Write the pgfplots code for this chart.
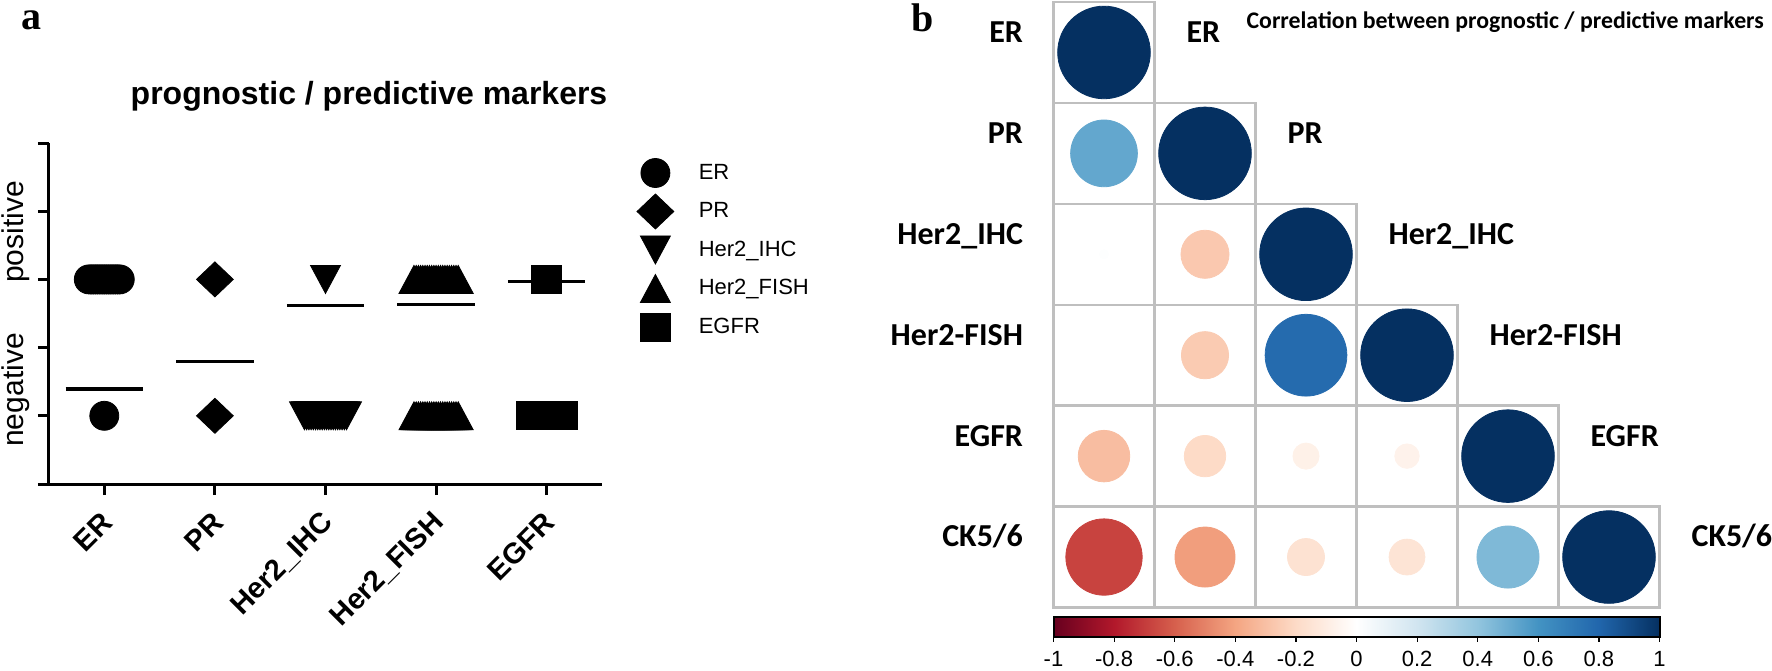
\documentclass[border=0pt]{standalone}
\usepackage{fontspec}
\setmainfont{Liberation Sans}
\newfontfamily\carlito{Carlito}
\newfontfamily\serifb{Liberation Serif}
\usepackage{pgfplots}
\pgfplotsset{compat=1.18}
\usepackage{pgfplotstable}

\pgfdeclareplotmark{mdiamond}{%
  \pgfpathmoveto{\pgfqpoint{0pt}{8.75pt}}%
  \pgfpathlineto{\pgfqpoint{9.2pt}{0pt}}%
  \pgfpathlineto{\pgfqpoint{0pt}{-8.75pt}}%
  \pgfpathlineto{\pgfqpoint{-9.2pt}{0pt}}%
  \pgfpathclose\pgfusepathqfillstroke}
\pgfdeclareplotmark{mtup}{%
  \pgfpathmoveto{\pgfqpoint{0pt}{7pt}}%
  \pgfpathlineto{\pgfqpoint{7.5pt}{-7pt}}%
  \pgfpathlineto{\pgfqpoint{-7.5pt}{-7pt}}%
  \pgfpathclose\pgfusepathqfillstroke}
\pgfdeclareplotmark{mtdown}{%
  \pgfpathmoveto{\pgfqpoint{0pt}{-7pt}}%
  \pgfpathlineto{\pgfqpoint{7.5pt}{7pt}}%
  \pgfpathlineto{\pgfqpoint{-7.5pt}{7pt}}%
  \pgfpathclose\pgfusepathqfillstroke}
\pgfdeclareplotmark{msquare}{%
  \pgfpathrectangle{\pgfqpoint{-7.5pt}{-7pt}}{\pgfqpoint{15pt}{14pt}}%
  \pgfusepathqfillstroke}

\pgfplotstableread{
x y r
0.5 5.5 1
0.5 4.5 0.52
1.5 4.5 1
0.5 3.5 0.01
1.5 3.5 -0.27
2.5 3.5 1
0.5 2.5 0.0
1.5 2.5 -0.26
2.5 2.5 0.78
3.5 2.5 1
0.5 1.5 -0.31
1.5 1.5 -0.20
2.5 1.5 -0.08
3.5 1.5 -0.07
4.5 1.5 1
0.5 0.5 -0.68
1.5 0.5 -0.42
2.5 0.5 -0.16
3.5 0.5 -0.15
4.5 0.5 0.45
5.5 0.5 1
}\corrtable

\begin{document}
\begin{tikzpicture}
\useasboundingbox (0,0) rectangle (886pt,335pt);

% ---------------- panel a ----------------
\begin{axis}[
  at={(24.5pt,93pt)}, anchor=south west,
  scale only axis, width=276.5pt, height=170.5pt,
  xmin=0.5, xmax=5.5, ymin=-0.5, ymax=2,
  axis x line*=bottom, axis y line*=left,
  axis line style={line width=1.5pt, -},
  xtick={1,2,3,4,5},
  xticklabels={ER,PR,Her2\_IHC,Her2\_FISH,EGFR},
  ytick={-0.5,0,0.5,1,1.5,2}, yticklabels={},
  tick align=outside, major tick length=5.5pt,
  tick style={line width=1.5pt, black},
  xticklabel style={xshift=4pt, yshift=-9pt, rotate=45, anchor=east,
    font=\bfseries\fontsize{14.5}{17}\selectfont},
  clip=false,
  legend style={at={(1.0633,0.9685)}, anchor=north west, draw=none, fill=none,
    inner sep=0pt, outer sep=0pt, row sep=0pt, column sep=12.5pt,
    nodes={inner sep=0pt}, font=\fontsize{11}{13}\selectfont},
  legend cell align=left,
  legend image code/.code={\path[draw=none, fill=none] (-8pt,-9.625pt) rectangle (8pt,9.625pt);
     \draw[#1] plot coordinates {(0pt,0pt)};},
]
\addplot[only marks, mark=*, mark size=7.25pt, mark options={fill=black, draw=black}]
  coordinates {(0.86,1) (0.88,1) (0.90,1) (0.92,1) (0.94,1) (0.96,1) (0.98,1) (1.00,1)
               (1.02,1) (1.04,1) (1.06,1) (1.08,1) (1.10,1) (1.12,1) (1.14,1) (1,0)};
\addlegendentry{ER}
\addplot[only marks, mark=mdiamond, mark options={fill=black, draw=black}]
  coordinates {(2,1) (2,0)};
\addlegendentry{PR}
\addplot[only marks, mark=mtdown, mark options={fill=black, draw=black}]
  coordinates {(3,1) (2.81,0) (2.83,0) (2.85,0) (2.87,0) (2.89,0) (2.91,0) (2.93,0) (2.95,0)
               (2.97,0) (2.99,0) (3.01,0) (3.03,0) (3.05,0) (3.07,0) (3.09,0) (3.11,0)
               (3.13,0) (3.15,0) (3.17,0) (3.19,0)};
\addlegendentry{Her2\_IHC}
\addplot[only marks, mark=mtup, mark options={fill=black, draw=black}]
  coordinates {(3.80,1) (3.82,1) (3.84,1) (3.86,1) (3.88,1) (3.90,1) (3.92,1) (3.94,1) (3.96,1)
               (3.98,1) (4.00,1) (4.02,1) (4.04,1) (4.06,1) (4.08,1) (4.10,1) (4.12,1)
               (4.14,1) (4.16,1) (4.18,1) (4.20,1)
               (3.80,0) (3.82,0) (3.84,0) (3.86,0) (3.88,0) (3.90,0) (3.92,0) (3.94,0) (3.96,0)
               (3.98,0) (4.00,0) (4.02,0) (4.04,0) (4.06,0) (4.08,0) (4.10,0) (4.12,0)
               (4.14,0) (4.16,0) (4.18,0) (4.20,0)};
\addlegendentry{Her2\_FISH}
\addplot[only marks, mark=msquare, mark options={fill=black, draw=black}]
  coordinates {(5,1) (4.86,0) (4.88,0) (4.90,0) (4.92,0) (4.94,0) (4.96,0) (4.98,0) (5.00,0)
               (5.02,0) (5.04,0) (5.06,0) (5.08,0) (5.10,0) (5.12,0) (5.14,0)};
\addlegendentry{EGFR}
% mean lines
\addplot[black, line width=1.6pt, forget plot] coordinates {(0.65,0.196) (1.35,0.196)};
\addplot[black, line width=1.6pt, forget plot] coordinates {(1.65,0.396) (2.35,0.396)};
\addplot[black, line width=1.6pt, forget plot] coordinates {(2.65,0.806) (3.35,0.806)};
\addplot[black, line width=1.6pt, forget plot] coordinates {(3.65,0.815) (4.35,0.815)};
\addplot[black, line width=1.6pt, forget plot] coordinates {(4.65,0.985) (5.35,0.985)};
\node[rotate=90, font=\fontsize{15}{18}\selectfont] at (axis description cs:-0.0597,0.739) {positive};
\node[rotate=90, font=\fontsize{15}{18}\selectfont] at (axis description cs:-0.0597,0.2757) {negative};
\node[font=\bfseries\fontsize{16}{19}\selectfont] at (axis description cs:0.5787,1.138)
  {prognostic / predictive markers};
\end{axis}

\node[anchor=base west, font=\serifb\bfseries\fontsize{20}{24}\selectfont] at (7pt,320pt) {a};
\node[anchor=base west, font=\serifb\bfseries\fontsize{20}{24}\selectfont] at (452pt,319pt) {b};

% ---------------- panel b ----------------
\begin{axis}[
  at={(526.75pt,31.25pt)}, anchor=south west,
  scale only axis, width=303pt, height=302.75pt,
  xmin=0, xmax=6, ymin=0, ymax=6,
  axis lines=none, xtick=\empty, ytick=\empty,
  clip=false,
  colormap={corr}{rgb255=(103,0,31) rgb255=(178,24,43) rgb255=(214,96,77) rgb255=(244,165,130)
     rgb255=(253,219,199) rgb255=(255,255,255) rgb255=(209,229,240) rgb255=(146,197,222)
     rgb255=(67,147,195) rgb255=(33,102,172) rgb255=(5,48,97)},
  point meta min=-1, point meta max=1,
  colorbar horizontal,
  colorbar style={
    at={(parent axis.south west)}, anchor=north west, yshift=4pt,
    scale only axis, width=303pt, height=10pt,
    xtick={-1,-0.8,-0.6,-0.4,-0.2,0,0.2,0.4,0.6,0.8,1},
    xticklabels={-1,-0.8,-0.6,-0.4,-0.2,0,0.2,0.4,0.6,0.8,1},
    xtick pos=left, xticklabel pos=left,
    tick align=outside, major tick length=2.5pt,
    tick style={black, line width=0.6pt},
    axis line style={line width=1pt},
    xticklabel style={yshift=-1.3pt, font=\fontsize{11}{12}\selectfont},
  },
]
\addplot[only marks, mark=square, mark size=25.25pt,
  mark options={draw=black!25, line width=1.2pt}] table[x=x, y=y] {\corrtable};
\addplot[scatter, only marks, mark=*, point meta=explicit,
  scatter/use mapped color={draw=mapped color, fill=mapped color},
  visualization depends on={23.15*sqrt(abs(\thisrow{r})) \as \rad},
  scatter/@pre marker code/.append style={/tikz/mark size=\rad}]
  table[x=x, y=y, meta=r] {\corrtable};

\tikzset{lab/.style={font=\carlito\bfseries\fontsize{16}{19}\selectfont}}
\node[lab, anchor=base east, xshift=-11.75pt] at (axis cs:0,5.6) {ER};
\node[lab, anchor=base east, xshift=-11.75pt] at (axis cs:0,4.6) {PR};
\node[lab, anchor=base east, xshift=-11.75pt] at (axis cs:0,3.6) {Her2\_IHC};
\node[lab, anchor=base east, xshift=-11.75pt] at (axis cs:0,2.6) {Her2-FISH};
\node[lab, anchor=base east, xshift=-11.75pt] at (axis cs:0,1.6) {EGFR};
\node[lab, anchor=base east, xshift=-11.75pt] at (axis cs:0,0.6) {CK5/6};
\node[lab, anchor=base west, xshift=12.5pt] at (axis cs:1,5.6) {ER};
\node[lab, anchor=base west, xshift=12.5pt] at (axis cs:2,4.6) {PR};
\node[lab, anchor=base west, xshift=12.5pt] at (axis cs:3,3.6) {Her2\_IHC};
\node[lab, anchor=base west, xshift=12.5pt] at (axis cs:4,2.6) {Her2-FISH};
\node[lab, anchor=base west, xshift=12.5pt] at (axis cs:5,1.6) {EGFR};
\node[lab, anchor=base west, xshift=12.5pt] at (axis cs:6,0.6) {CK5/6};
\end{axis}

\node[anchor=east, font=\carlito\bfseries\fontsize{11.9}{14}\selectfont] at (885.5pt,324pt)
  {Correlation between prognostic / predictive markers};
\end{tikzpicture}
\end{document}
